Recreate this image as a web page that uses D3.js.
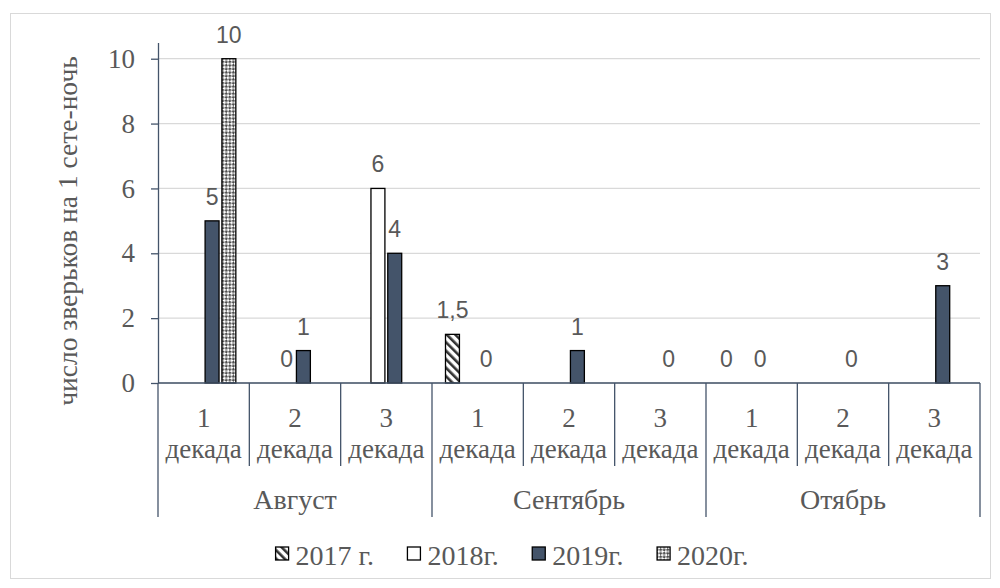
<!DOCTYPE html>
<html>
<head>
<meta charset="utf-8">
<script src="https://cdn.jsdelivr.net/npm/d3@7"></script>
<style>
body { margin: 0; background: #fff; }
svg { display: block; }
</style>
</head>
<body>
<svg id="chart" width="1000" height="588"></svg>
<script>
// data
var months = ["Август", "Сентябрь", "Отябрь"];
var decades = ["1", "2", "3"];
var series = ["2017 г.", "2018г.", "2019г.", "2020г."];
var v2017 = [null, null, null, 1.5, null, null, 0, null, null];
var v2018 = [null, 0, 6, null, null, null, null, null, null];
var v2019 = [5, 1, 4, 0, 1, 0, 0, 0, 3];
var v2020 = [10, null, null, null, null, null, null, null, null];
var yTicks = [0, 2, 4, 6, 8, 10];

var values = [v2017, v2018, v2019, v2020];
var fills = ["url(#hatch)", "#ffffff", "#44546a", "url(#checks)"];

var svg = d3.select("#chart");
var serif = "'Liberation Serif', 'Times New Roman', serif";
var sans = "'Liberation Sans', Arial, sans-serif";
var textColor = "#595959";
var axisColor = "#44546a";

// categories: month x decade
var cats = [];
months.forEach(function(m, mi) {
    decades.forEach(function(d) {
        cats.push({key: mi + "-" + d, month: m, decade: d});
    });
});

var x0 = d3.scaleBand()
    .domain(cats.map(function(c) { return c.key; }))
    .range([158, 980]);

var x1 = d3.scaleBand()
    .domain(series)
    .range([x0.bandwidth() / 2 - 33.6, x0.bandwidth() / 2 + 33.6])
    .paddingInner(0.17)
    .paddingOuter(0.085);

var y = d3.scaleLinear()
    .domain([0, 10.5])
    .range([383, 42.5]);

// patterns
var defs = svg.append("defs");
var hatch = defs.append("pattern")
    .attr("id", "hatch")
    .attr("patternUnits", "userSpaceOnUse")
    .attr("width", 6)
    .attr("height", 6)
    .attr("patternTransform", "rotate(-45)");
hatch.append("rect").attr("width", 6).attr("height", 6).attr("fill", "#fff");
hatch.append("rect").attr("width", 2.6).attr("height", 6).attr("fill", "#333");

var checks = defs.append("pattern")
    .attr("id", "checks")
    .attr("patternUnits", "userSpaceOnUse")
    .attr("width", 5)
    .attr("height", 5)
    .attr("patternTransform", "rotate(45)");
checks.append("rect").attr("width", 5).attr("height", 5).attr("fill", "#ffffff");
checks.append("rect").attr("width", 2.5).attr("height", 2.5).attr("fill", "#4d4d4d");
checks.append("rect").attr("x", 2.5).attr("y", 2.5).attr("width", 2.5).attr("height", 2.5).attr("fill", "#4d4d4d");

// chart border
svg.append("rect")
    .attr("x", 10.5)
    .attr("y", 13.5)
    .attr("width", 980)
    .attr("height", 565)
    .attr("fill", "none")
    .attr("stroke", "#d9d9d9")
    .attr("stroke-width", 1);

// gridlines
svg.selectAll(".grid")
    .data(yTicks)
    .enter()
    .append("line")
    .attr("class", "grid")
    .attr("x1", x0.range()[0])
    .attr("x2", x0.range()[1])
    .attr("y1", function(d) { return y(d); })
    .attr("y2", function(d) { return y(d); })
    .attr("stroke", "#d9d9d9")
    .attr("stroke-width", 1.3);

// y axis
var yAxis = svg.append("g")
    .attr("transform", "translate(" + x0.range()[0] + ",0)")
    .call(d3.axisLeft(y).tickValues(yTicks).tickSize(7).tickSizeOuter(0).tickPadding(16));
yAxis.select(".domain").attr("stroke", axisColor).attr("stroke-width", 1.3);
yAxis.selectAll(".tick line").attr("stroke", axisColor).attr("stroke-width", 1.3);
yAxis.selectAll(".tick text")
    .attr("font-family", serif)
    .attr("font-size", "27px")
    .attr("fill", textColor);

// y title
svg.append("text")
    .attr("transform", "translate(77,231) rotate(-90)")
    .attr("text-anchor", "middle")
    .attr("font-family", serif)
    .attr("font-size", "27.5px")
    .attr("fill", textColor)
    .text("число зверьков на 1 сете-ночь");

// bars
var bars = [];
values.forEach(function(arr, si) {
    arr.forEach(function(v, ci) {
        if (v !== null) bars.push({s: si, c: ci, v: v});
    });
});

svg.selectAll(".bar")
    .data(bars)
    .enter()
    .append("rect")
    .attr("class", "bar")
    .attr("x", function(d) { return x0(cats[d.c].key) + x1(series[d.s]); })
    .attr("width", x1.bandwidth())
    .attr("y", function(d) { return y(d.v); })
    .attr("height", function(d) { return y(0) - y(d.v); })
    .attr("fill", function(d) { return fills[d.s]; })
    .attr("stroke", "#000")
    .attr("stroke-width", 1.3);

// data labels
svg.selectAll(".lbl")
    .data(bars)
    .enter()
    .append("text")
    .attr("class", "lbl")
    .attr("x", function(d) { return x0(cats[d.c].key) + x1(series[d.s]) + x1.bandwidth() / 2; })
    .attr("y", function(d) { return y(d.v) - 16; })
    .attr("text-anchor", "middle")
    .attr("font-family", sans)
    .attr("font-size", "23px")
    .attr("fill", textColor)
    .text(function(d) { return String(d.v).replace(".", ","); });

// category axis
svg.append("line")
    .attr("x1", x0.range()[0])
    .attr("x2", x0.range()[1])
    .attr("y1", y(0))
    .attr("y2", y(0))
    .attr("stroke", axisColor)
    .attr("stroke-width", 1.6);

var bounds = d3.range(cats.length + 1);
svg.selectAll(".sep")
    .data(bounds)
    .enter()
    .append("line")
    .attr("class", "sep")
    .attr("x1", function(i) { return x0.range()[0] + i * x0.step(); })
    .attr("x2", function(i) { return x0.range()[0] + i * x0.step(); })
    .attr("y1", y(0))
    .attr("y2", function(i) { return i % 3 === 0 ? 517 : 466; })
    .attr("stroke", axisColor)
    .attr("stroke-width", 1.3);

var catText = svg.selectAll(".cat")
    .data(cats)
    .enter()
    .append("text")
    .attr("class", "cat")
    .attr("text-anchor", "middle")
    .attr("font-family", serif)
    .attr("font-size", "27px")
    .attr("fill", textColor);
catText.append("tspan")
    .attr("x", function(d) { return x0(d.key) + x0.bandwidth() / 2; })
    .attr("y", 427)
    .text(function(d) { return d.decade; });
catText.append("tspan")
    .attr("x", function(d) { return x0(d.key) + x0.bandwidth() / 2; })
    .attr("y", 458)
    .text("декада");

svg.selectAll(".month")
    .data(months)
    .enter()
    .append("text")
    .attr("class", "month")
    .attr("x", function(d, i) { return x0(i + "-1") + x0.step() * 1.5; })
    .attr("y", 509)
    .attr("text-anchor", "middle")
    .attr("font-family", serif)
    .attr("font-size", "28px")
    .attr("fill", textColor)
    .text(function(d) { return d; });

// legend
var legend = svg.append("g");
var lx = 0;
var gap = 33.5;
series.forEach(function(name, i) {
    var item = legend.append("g").attr("transform", "translate(" + lx + ",0)");
    item.append("rect")
        .attr("x", 0)
        .attr("y", 547)
        .attr("width", 13)
        .attr("height", 13)
        .attr("fill", fills[i])
        .attr("stroke", "#000")
        .attr("stroke-width", 1.3);
    var t = item.append("text")
        .attr("x", 20)
        .attr("y", 565)
        .attr("font-family", serif)
        .attr("font-size", "28px")
        .attr("fill", textColor)
        .text(name);
    lx += 20 + t.node().getComputedTextLength() + gap;
});
lx -= gap;
legend.attr("transform", "translate(" + (512 - lx / 2) + ",0)");
</script>
</body>
</html>
